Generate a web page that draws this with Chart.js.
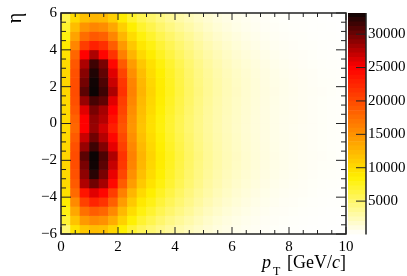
<!DOCTYPE html>
<html>
<head>
<meta charset="utf-8">
<title>pT eta</title>
<script src="https://cdn.jsdelivr.net/npm/chart.js@4"></script>
<style>
  html, body { margin: 0; padding: 0; background: #fff; overflow: hidden; }
  canvas { position: absolute; top: 0; }
  #mapa { left: 0; }
  #barra { left: 340px; }
</style>
</head>
<body>
<canvas id="mapa" width="407" height="276"></canvas>
<canvas id="barra" width="67" height="276"></canvas>
<script>
const pt_bordas = [0, 0.333, 0.667, 1, 1.333, 1.667, 2, 2.333, 2.667, 3, 3.333, 3.667, 4, 4.333, 4.667, 5, 5.333, 5.667, 6, 6.333, 6.667, 7, 7.333, 7.667, 8, 8.333, 8.667, 9, 9.333, 9.667, 10];
const eta_bordas = [6, 5.5, 5, 4.5, 4, 3.5, 3, 2.5, 2, 1.5, 1, 0.5, 0, -0.5, -1, -1.5, -2, -2.5, -3, -3.5, -4, -4.5, -5, -5.5, -6];
const x_ticks = [0, 2, 4, 6, 8, 10];
const y_ticks = [-6, -4, -2, 0, 2, 4, 6];
const barra_ticks = [5000, 10000, 15000, 20000, 25000, 30000];
const barra_max = 33170;

// contagens por linha de eta, de cima para baixo
const contagens = [
  [6000, 10000, 11800, 12500, 12300, 10800, 8800, 7000, 5800, 5000, 4200, 3500, 2900, 2400, 1900, 1500, 1150, 900, 700, 520, 400, 300, 230, 180, 140, 110, 85, 65, 50, 40],
  [7000, 12000, 14800, 15800, 15300, 13500, 10800, 8600, 7000, 6000, 5000, 4200, 3500, 2900, 2300, 1800, 1400, 1100, 850, 650, 500, 380, 290, 230, 180, 140, 105, 85, 65, 50],
  [8000, 13800, 17500, 18900, 18300, 15800, 12500, 9900, 8100, 7000, 5900, 5000, 4200, 3500, 2800, 2200, 1750, 1400, 1100, 850, 660, 500, 390, 300, 235, 185, 140, 110, 85, 65],
  [8800, 15800, 20800, 22800, 21800, 18600, 14500, 11300, 9100, 7900, 6700, 5700, 4800, 4000, 3250, 2600, 2100, 1700, 1350, 1050, 830, 640, 500, 390, 305, 240, 185, 145, 110, 90],
  [9500, 18000, 25000, 27800, 24700, 21500, 16300, 12600, 10100, 8700, 7400, 6300, 5300, 4400, 3600, 2950, 2400, 1950, 1550, 1250, 990, 770, 610, 480, 375, 295, 230, 180, 140, 110],
  [10000, 19000, 27800, 31500, 29500, 24500, 18800, 14300, 11300, 9500, 8100, 6900, 5800, 4800, 3950, 3200, 2650, 2150, 1750, 1400, 1130, 900, 710, 570, 445, 350, 270, 215, 170, 135],
  [10200, 19500, 29000, 32500, 30300, 26000, 20300, 15200, 12000, 9900, 8500, 7200, 6100, 5000, 4150, 3400, 2800, 2300, 1900, 1520, 1240, 1000, 800, 650, 510, 410, 320, 250, 200, 160],
  [10300, 19700, 29700, 33000, 31000, 26800, 21300, 15900, 12400, 10200, 8700, 7400, 6200, 5150, 4250, 3500, 2900, 2400, 1980, 1600, 1300, 1050, 850, 700, 550, 450, 350, 280, 220, 180],
  [10300, 19800, 30500, 33200, 31500, 27800, 21600, 16100, 12600, 10400, 8800, 7500, 6300, 5200, 4300, 3520, 2920, 2400, 2000, 1600, 1300, 1060, 860, 700, 560, 450, 360, 285, 225, 180],
  [10200, 19600, 28500, 31200, 30300, 26000, 20800, 15800, 12300, 10200, 8650, 7300, 6150, 5100, 4200, 3450, 2850, 2350, 1950, 1560, 1270, 1030, 830, 680, 540, 440, 350, 275, 215, 175],
  [10100, 19100, 26000, 29500, 28000, 25000, 20300, 15300, 12000, 10000, 8400, 7100, 6000, 4950, 4100, 3350, 2780, 2300, 1900, 1520, 1240, 1010, 810, 660, 530, 430, 340, 270, 210, 170],
  [10000, 18300, 25000, 28700, 27500, 24000, 19700, 14900, 11700, 9700, 8200, 6900, 5800, 4800, 4000, 3280, 2720, 2250, 1860, 1490, 1210, 990, 790, 650, 520, 420, 335, 265, 205, 165],
  [10000, 18000, 25000, 28500, 26500, 23000, 19200, 14700, 11500, 9600, 8100, 6850, 5750, 4780, 3980, 3260, 2700, 2240, 1850, 1480, 1200, 985, 785, 645, 515, 415, 330, 262, 204, 163],
  [10100, 18800, 26800, 29800, 27500, 24600, 20000, 15200, 11900, 9900, 8350, 7050, 5950, 4920, 4080, 3330, 2770, 2290, 1890, 1510, 1230, 1005, 805, 655, 525, 425, 338, 268, 208, 168],
  [10200, 19500, 28500, 31500, 29200, 25800, 20700, 15700, 12300, 10150, 8600, 7250, 6100, 5060, 4180, 3430, 2840, 2340, 1940, 1550, 1260, 1025, 825, 675, 535, 435, 345, 272, 212, 172],
  [10300, 19800, 30500, 33200, 31000, 27700, 21500, 16100, 12600, 10400, 8800, 7500, 6300, 5200, 4300, 3500, 2900, 2400, 2000, 1600, 1300, 1060, 860, 700, 560, 450, 360, 285, 225, 180],
  [10300, 19700, 29500, 33000, 30500, 26900, 21200, 15900, 12400, 10200, 8700, 7400, 6200, 5150, 4250, 3490, 2890, 2390, 1970, 1590, 1290, 1045, 845, 695, 548, 448, 348, 278, 218, 178],
  [10100, 19400, 28800, 32200, 29500, 25700, 20200, 15100, 11900, 9850, 8450, 7150, 6050, 4980, 4130, 3380, 2780, 2280, 1880, 1510, 1230, 990, 790, 640, 505, 405, 315, 248, 198, 158],
  [10000, 18800, 27700, 29800, 28000, 24400, 18700, 14200, 11200, 9400, 8050, 6850, 5750, 4780, 3930, 3180, 2630, 2130, 1730, 1390, 1120, 890, 700, 560, 440, 345, 265, 212, 168, 132],
  [9500, 17700, 23600, 26000, 24600, 20800, 16200, 12500, 10000, 8600, 7350, 6250, 5250, 4350, 3570, 2920, 2370, 1920, 1530, 1230, 970, 760, 600, 470, 370, 290, 225, 178, 138, 108],
  [8800, 15500, 20500, 22600, 21500, 18400, 14300, 11200, 9000, 7800, 6600, 5600, 4750, 3950, 3200, 2570, 2070, 1680, 1330, 1030, 810, 630, 490, 380, 300, 235, 182, 142, 108, 88],
  [7900, 13500, 17300, 18600, 18000, 15600, 12300, 9800, 8000, 6900, 5800, 4900, 4150, 3450, 2750, 2170, 1720, 1380, 1080, 830, 640, 490, 380, 295, 230, 180, 138, 108, 82, 63],
  [6800, 11600, 14500, 15500, 15000, 13200, 10600, 8400, 6900, 5900, 4900, 4100, 3450, 2850, 2260, 1770, 1380, 1080, 830, 630, 490, 370, 285, 225, 175, 135, 102, 82, 62, 48],
  [4800, 9400, 11300, 12000, 11800, 10300, 8500, 6800, 5600, 4800, 4000, 3350, 2800, 2300, 1850, 1450, 1100, 870, 670, 500, 385, 290, 220, 175, 135, 105, 82, 62, 48, 38]
];

const paleta_pos = [0, 8500, 25000, 33170];
const paleta_cor = [[255, 255, 255], [255, 240, 0], [255, 0, 0], [12, 4, 4]];
const fonte = "'Liberation Serif', serif";
const cor_eixo = '#222';

function corDoValor(v) {
  let i = 0;
  while (i < paleta_pos.length - 2 && v > paleta_pos[i + 1]) i++;
  const t = Math.min(1, (v - paleta_pos[i]) / (paleta_pos[i + 1] - paleta_pos[i]));
  const a = paleta_cor[i], b = paleta_cor[i + 1];
  return `rgb(${Math.round(a[0] + (b[0] - a[0]) * t)},${Math.round(a[1] + (b[1] - a[1]) * t)},${Math.round(a[2] + (b[2] - a[2]) * t)})`;
}

function semMenos(v) {
  return String(v).replace('-', '\u2212');
}

// marcas para dentro, a moldura e os titulos dos eixos
const molduraPlugin = {
  id: 'moldura',
  afterDatasetsDraw(chart) {
    const { ctx, chartArea: a, scales: { x, y } } = chart;
    ctx.save();
    ctx.strokeStyle = cor_eixo;
    ctx.lineWidth = 1;
    for (let v = 0; v <= 10; v += 0.5) {
      const px = x.getPixelForValue(v);
      const len = v % 2 === 0 ? 7 : 4;
      ctx.beginPath();
      ctx.moveTo(px, a.bottom); ctx.lineTo(px, a.bottom - len);
      ctx.moveTo(px, a.top); ctx.lineTo(px, a.top + len);
      ctx.stroke();
    }
    for (let v = -6; v <= 6; v += 0.5) {
      const py = y.getPixelForValue(v);
      const len = v % 2 === 0 ? 10 : 5;
      ctx.beginPath();
      ctx.moveTo(a.left, py); ctx.lineTo(a.left + len, py);
      ctx.moveTo(a.right, py); ctx.lineTo(a.right - len, py);
      ctx.stroke();
    }
    ctx.lineWidth = 1.5;
    ctx.strokeRect(a.left, a.top, a.right - a.left, a.bottom - a.top);

    ctx.fillStyle = '#000';
    ctx.textBaseline = 'alphabetic';
    ctx.textAlign = 'left';
    ctx.font = `italic 18px ${fonte}`;
    ctx.fillText('p', 262, 268);
    ctx.font = `12px ${fonte}`;
    ctx.fillText('T', 273, 275);
    ctx.font = `18px ${fonte}`;
    ctx.fillText('[GeV/', 287, 268);
    const w = ctx.measureText('[GeV/').width;
    ctx.font = `italic 18px ${fonte}`;
    ctx.fillText('c', 287 + w, 268);
    const wc = ctx.measureText('c').width;
    ctx.font = `18px ${fonte}`;
    ctx.fillText(']', 287 + w + wc, 268);

    ctx.font = `20px ${fonte}`;
    ctx.translate(21, 18);
    ctx.rotate(-Math.PI / 2);
    ctx.textAlign = 'center';
    ctx.fillText('\u03b7', 0, 0);
    ctx.restore();
  }
};

function gerarMapa() {
  const datasets = contagens.map((linha, i) => ({
    data: linha.map((v, j) => ({
      x: (pt_bordas[j] + pt_bordas[j + 1]) / 2,
      y: [eta_bordas[i + 1], eta_bordas[i]]
    })),
    backgroundColor: linha.map(corDoValor),
    borderWidth: 0,
    grouped: false,
    barPercentage: 1,
    categoryPercentage: 1
  }));

  new Chart(document.getElementById('mapa'), {
    type: 'bar',
    data: { datasets: datasets },
    options: {
      responsive: false,
      animation: false,
      events: [],
      layout: { autoPadding: false, padding: { top: 13, right: 61, left: 0, bottom: 0 } },
      plugins: { legend: { display: false }, tooltip: { enabled: false } },
      scales: {
        x: {
          type: 'linear',
          min: 0,
          max: 10,
          offset: false,
          afterFit: (s) => { s.height = 42; },
          afterBuildTicks: (s) => { s.ticks = x_ticks.map(v => ({ value: v })); },
          grid: { display: false, drawTicks: false },
          border: { display: false },
          ticks: { color: '#000', padding: 4, maxRotation: 0, font: { family: fonte, size: 15 }, callback: semMenos }
        },
        y: {
          type: 'linear',
          min: -6,
          max: 6,
          afterFit: (s) => { s.width = 61; },
          afterBuildTicks: (s) => { s.ticks = y_ticks.map(v => ({ value: v })); },
          grid: { display: false, drawTicks: false },
          border: { display: false },
          ticks: { color: '#000', padding: 4, font: { family: fonte, size: 15 }, callback: semMenos }
        }
      }
    },
    plugins: [molduraPlugin]
  });
}

const barraPlugin = {
  id: 'barraEixo',
  afterDatasetsDraw(chart) {
    const { ctx, chartArea: a, scales: { y } } = chart;
    ctx.save();
    ctx.strokeStyle = cor_eixo;
    ctx.lineWidth = 1;
    barra_ticks.forEach((v) => {
      const py = y.getPixelForValue(v);
      ctx.beginPath();
      ctx.moveTo(a.right, py); ctx.lineTo(a.right - 10, py);
      ctx.stroke();
    });
    ctx.lineWidth = 1.5;
    ctx.beginPath();
    ctx.moveTo(a.right, a.top); ctx.lineTo(a.right, a.bottom);
    ctx.stroke();
    ctx.restore();
  }
};

function gerarBarra() {
  const n = 50;
  const faixas = [];
  for (let i = 0; i < n; i++) {
    const lo = barra_max * i / n, hi = barra_max * (i + 1) / n;
    faixas.push({ data: [[lo, hi]], backgroundColor: corDoValor((lo + hi) / 2), borderWidth: 0, grouped: false, barPercentage: 1, categoryPercentage: 1 });
  }

  new Chart(document.getElementById('barra'), {
    type: 'bar',
    data: { labels: ['z'], datasets: faixas },
    options: {
      responsive: false,
      animation: false,
      events: [],
      layout: { autoPadding: false, padding: { top: 13, left: 8, right: 0, bottom: 41.5 } },
      plugins: { legend: { display: false }, tooltip: { enabled: false } },
      scales: {
        x: { display: false },
        y: {
          position: 'right',
          min: 0,
          max: barra_max,
          afterFit: (s) => { s.width = 41; },
          afterBuildTicks: (s) => { s.ticks = barra_ticks.map(v => ({ value: v })); },
          grid: { display: false, drawTicks: false },
          border: { display: false },
          ticks: { color: '#000', padding: 2, font: { family: fonte, size: 15 }, callback: (v) => String(v) }
        }
      }
    },
    plugins: [barraPlugin]
  });
}

gerarMapa();
gerarBarra();
</script>
</body>
</html>
